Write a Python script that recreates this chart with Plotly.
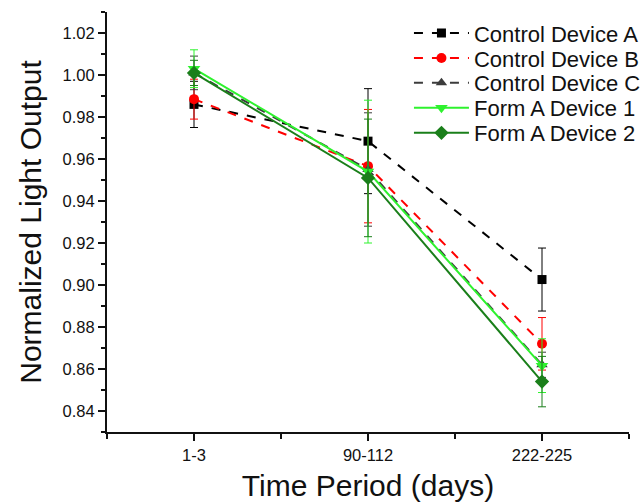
import plotly.graph_objects as go

categories = ["1-3", "90-112", "222-225"]
x_pos = [1, 2, 3]

names = ["Control Device A", "Control Device B", "Control Device C", "Form A Device 1", "Form A Device 2"]
ctrl_a = [0.986, 0.9685, 0.9026]
ctrl_a_err = [0.011, 0.025, 0.015]
ctrl_b = [0.9885, 0.9566, 0.872]
ctrl_b_err = [0.0095, 0.027, 0.0125]
ctrl_c = [1.001, 0.955, 0.862]
ctrl_c_err = [0.008, 0.027, 0.006]
form_1 = [1.003, 0.954, 0.8616]
form_1_err = [0.009, 0.034, 0.0128]
form_2 = [1.001, 0.951, 0.854]
form_2_err = [0.006, 0.028, 0.012]

series = [
    (names[0], ctrl_a, ctrl_a_err, "#000000", "dash", "square", 9),
    (names[1], ctrl_b, ctrl_b_err, "#ff0000", "dash", "circle", 10),
    (names[2], ctrl_c, ctrl_c_err, "#3c3c3c", "dash", "triangle-up", 10),
    (names[3], form_1, form_1_err, "#2ef22e", "solid", "triangle-down", 11),
    (names[4], form_2, form_2_err, "#1a7f1a", "solid", "diamond", 11),
]

font = "Liberation Sans, Arial, sans-serif"
legend_ids = ["legend", "legend2", "legend3", "legend4", "legend5"]
legend_y = [0.934, 0.884, 0.835, 0.785, 0.735]

fig = go.Figure()
for i, (name, vals, errs, color, dash, symbol, size) in enumerate(series):
    fig.add_trace(go.Scatter(
        x=x_pos, y=vals, name=name, mode="lines+markers",
        line=dict(color=color, width=2, dash=dash),
        marker=dict(symbol=symbol, size=size, color=color),
        error_y=dict(type="data", array=errs, visible=True, color=color, thickness=1, width=4),
        legend=legend_ids[i],
    ))

layout_legends = {}
for lid, ly in zip(legend_ids, legend_y):
    layout_legends[lid] = dict(
        xref="container", yref="container",
        x=0.637, y=ly, xanchor="left", yanchor="middle",
        font=dict(size=22, family=font, color="#111111"),
        bgcolor="rgba(0,0,0,0)", itemwidth=55, borderwidth=0,
    )

fig.update_layout(
    width=642, height=502,
    margin=dict(l=107, r=13, t=12, b=70, autoexpand=False),
    paper_bgcolor="white", plot_bgcolor="white",
    font=dict(family=font, color="#111111"),
    showlegend=True,
    **layout_legends,
)
fig.update_xaxes(
    range=[0.5, 3.5], tickvals=x_pos, ticktext=categories,
    showline=True, linecolor="#111111", linewidth=2,
    ticks="outside", ticklen=7, tickwidth=2, tickcolor="#111111",
    tickfont=dict(size=16.5, family=font, color="#111111"),
    minor=dict(tickvals=[0.5, 1.5, 2.5, 3.5], ticks="outside", ticklen=5, tickwidth=2, tickcolor="#111111"),
    showgrid=False, zeroline=False,
    title=dict(text="Time Period (days)", font=dict(size=30, family=font, color="#111111"), standoff=12),
)
fig.update_yaxes(
    range=[0.83, 1.03], tick0=0.84, dtick=0.02, tickformat=".2f",
    showline=True, linecolor="#111111", linewidth=2,
    ticks="outside", ticklen=7, tickwidth=2, tickcolor="#111111",
    tickfont=dict(size=16.5, family=font, color="#111111"),
    minor=dict(dtick=0.01, ticks="outside", ticklen=4, tickwidth=2, tickcolor="#111111"),
    showgrid=False, zeroline=False,
    title=dict(text="Normalized Light Output", font=dict(size=30, family=font, color="#111111"), standoff=12),
)

fig.write_html("out.html")
